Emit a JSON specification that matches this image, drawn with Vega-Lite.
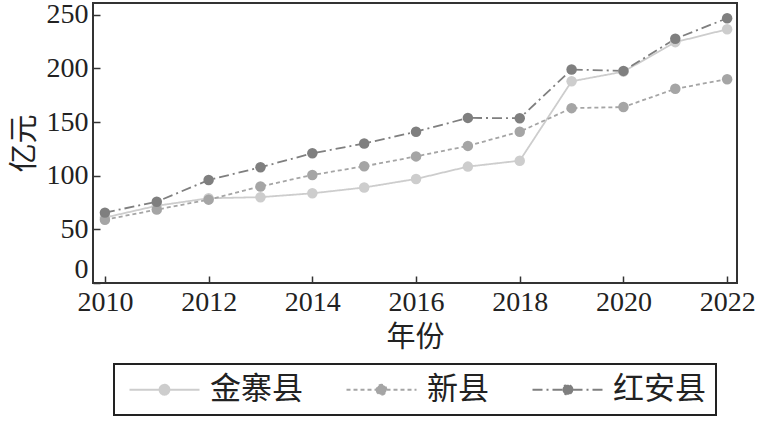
{
  "$schema": "https://vega.github.io/schema/vega-lite/v6.json",
  "autosize": "none",
  "width": 644,
  "height": 280,
  "padding": {"left": 93, "top": 3, "right": 21, "bottom": 142},
  "background": "white",
  "config": {
    "font": "Liberation Serif",
    "view": {"stroke": "#333333", "strokeWidth": 2},
    "axis": {"labelFont": "Liberation Serif", "titleFont": "Noto Sans CJK SC", "labelColor": "#222", "titleColor": "#222", "grid": false, "domain": false, "tickColor": "#333", "tickWidth": 1.5},
    "legend": {"layout": {"bottom": {"anchor": "middle"}}}
  },
  "data": {"values": [
    {"year": 2010, "county": "金寨县", "v": 61},
    {"year": 2011, "county": "金寨县", "v": 72},
    {"year": 2012, "county": "金寨县", "v": 79},
    {"year": 2013, "county": "金寨县", "v": 80},
    {"year": 2014, "county": "金寨县", "v": 83.6},
    {"year": 2015, "county": "金寨县", "v": 89},
    {"year": 2016, "county": "金寨县", "v": 97},
    {"year": 2017, "county": "金寨县", "v": 108.5},
    {"year": 2018, "county": "金寨县", "v": 114},
    {"year": 2019, "county": "金寨县", "v": 188},
    {"year": 2020, "county": "金寨县", "v": 197},
    {"year": 2021, "county": "金寨县", "v": 224.5},
    {"year": 2022, "county": "金寨县", "v": 236.5},
    {"year": 2010, "county": "新县", "v": 59},
    {"year": 2011, "county": "新县", "v": 68.4},
    {"year": 2012, "county": "新县", "v": 77.7},
    {"year": 2013, "county": "新县", "v": 90},
    {"year": 2014, "county": "新县", "v": 100.7},
    {"year": 2015, "county": "新县", "v": 108.8},
    {"year": 2016, "county": "新县", "v": 118},
    {"year": 2017, "county": "新县", "v": 127.8},
    {"year": 2018, "county": "新县", "v": 141},
    {"year": 2019, "county": "新县", "v": 163},
    {"year": 2020, "county": "新县", "v": 164},
    {"year": 2021, "county": "新县", "v": 181},
    {"year": 2022, "county": "新县", "v": 190},
    {"year": 2010, "county": "红安县", "v": 65.6},
    {"year": 2011, "county": "红安县", "v": 75.8},
    {"year": 2012, "county": "红安县", "v": 96},
    {"year": 2013, "county": "红安县", "v": 107.9},
    {"year": 2014, "county": "红安县", "v": 120.9},
    {"year": 2015, "county": "红安县", "v": 130},
    {"year": 2016, "county": "红安县", "v": 141},
    {"year": 2017, "county": "红安县", "v": 153.9},
    {"year": 2018, "county": "红安县", "v": 153.6},
    {"year": 2019, "county": "红安县", "v": 199},
    {"year": 2020, "county": "红安县", "v": 197.7},
    {"year": 2021, "county": "红安县", "v": 227.6},
    {"year": 2022, "county": "红安县", "v": 246.8}
  ]},
  "encoding": {
    "x": {"field": "year", "type": "quantitative",
      "scale": {"domain": [2009.77, 2022.19], "nice": false, "zero": false},
      "axis": {"values": [2010, 2012, 2014, 2016, 2018, 2020, 2022], "format": "d", "labelFontSize": 28, "tickSize": -7, "labelPadding": 12, "title": "年份", "titleFontSize": 29, "titlePadding": 7, "titleFontWeight": "normal"}},
    "y": {"field": "v", "type": "quantitative",
      "scale": {"domain": [0, 261], "nice": false},
      "axis": {"values": [0, 50, 100, 150, 200, 250], "labelFontSize": 28, "tickSize": -7, "labelPadding": 12, "labelFlush": true, "title": "亿元", "titleFontSize": 29, "titlePadding": 7, "titleFontWeight": "normal"}},
    "color": {"field": "county", "type": "nominal",
      "scale": {"domain": ["金寨县", "新县", "红安县"], "range": ["#cdcdcd", "#a5a5a5", "#7f7f7f"]},
      "legend": {"title": null, "orient": "bottom", "direction": "horizontal", "offset": 12,
        "labelFont": "Noto Sans CJK SC", "labelFontSize": 31, "labelColor": "#222",
        "strokeColor": "#222", "padding": 10,
        "symbolType": "M-1,0H2A0.5,0.5 0 1 1 3,0A0.5,0.5 0 1 1 2,0M3,0H6",
        "symbolSize": 400, "symbolStrokeWidth": 1.8, "columnPadding": 38, "labelOffset": 55,
        "encode": {"legend": {"update": {"strokeWidth": {"value": 2}}}}}},
    "strokeDash": {"field": "county", "type": "nominal",
      "scale": {"domain": ["金寨县", "新县", "红安县"], "range": [[1, 0], [4, 3], [10, 4, 2, 4]]},
      "legend": null}
  },
  "layer": [
    {"mark": {"type": "line", "strokeWidth": 1.8}},
    {"mark": {"type": "point", "filled": true, "opacity": 1, "size": 110}}
  ]
}
